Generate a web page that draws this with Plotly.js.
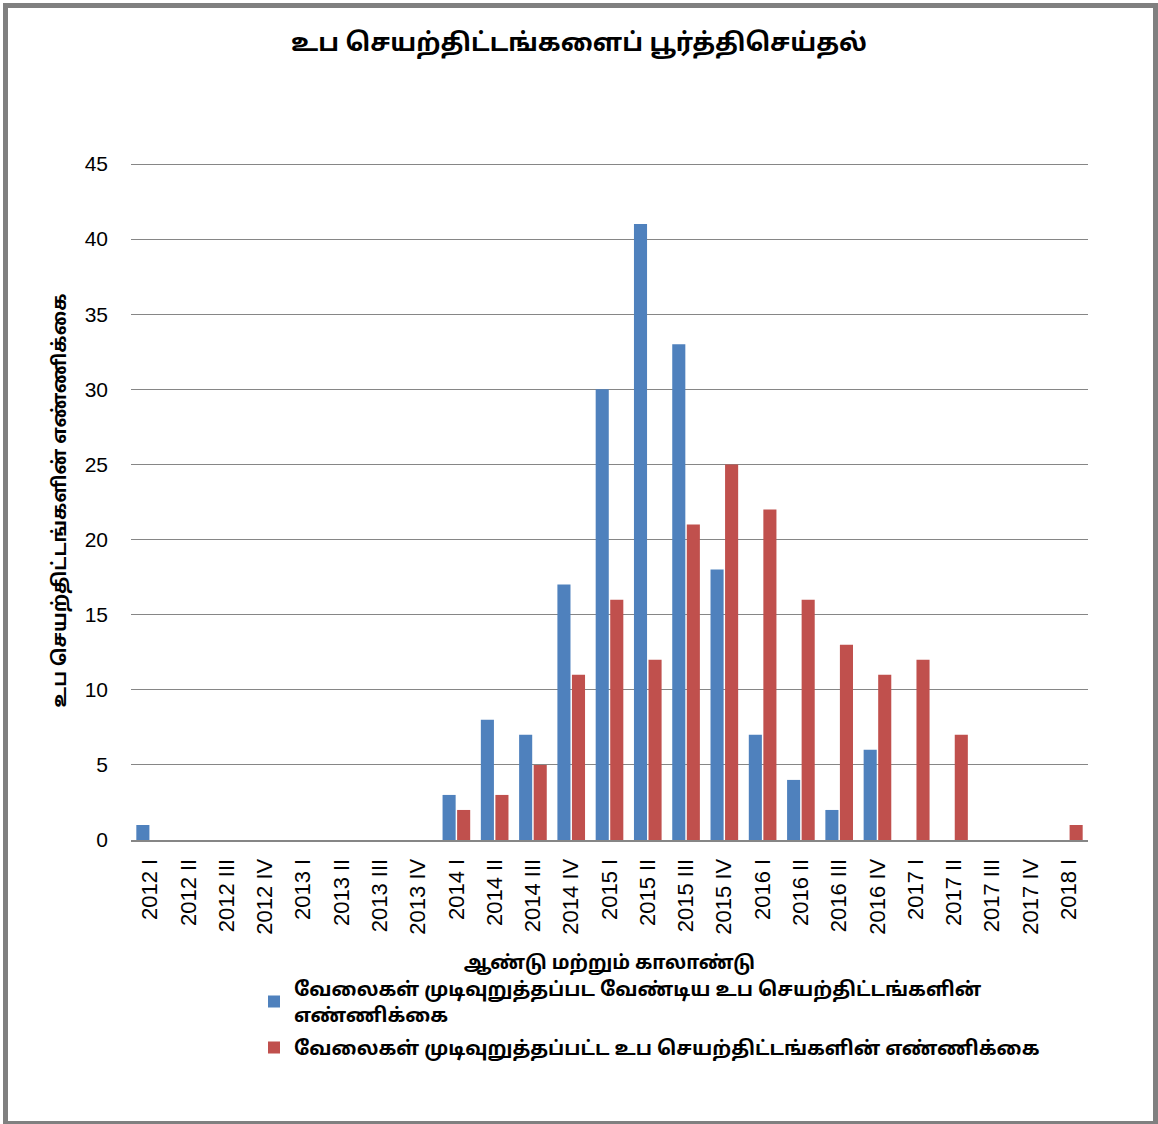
<!DOCTYPE html>
<html>
<head>
<meta charset="utf-8">
<script src="https://cdn.plot.ly/plotly-3.0.1.min.js"></script>
<style>
  html, body { margin: 0; padding: 0; background: #fff; overflow: hidden; }
  #chart { position: absolute; left: 0; top: 0; width: 1158px; height: 1124px; }
  #frame { position: absolute; left: 3px; top: 3px; width: 1155px; height: 1123px; box-sizing: border-box;
           border: 5px solid #808080; pointer-events: none; }
</style>
</head>
<body>
<div id="chart"></div>
<div id="frame"></div>
<script>
const categories = [
  "2012 I","2012 II","2012 III","2012 IV",
  "2013 I","2013 II","2013 III","2013 IV",
  "2014 I","2014 II","2014 III","2014 IV",
  "2015 I","2015 II","2015 III","2015 IV",
  "2016 I","2016 II","2016 III","2016 IV",
  "2017 I","2017 II","2017 III","2017 IV",
  "2018 I"
];
const toBeCompleted = [1,0,0,0, 0,0,0,0, 3,8,7,17, 30,41,33,18, 7,4,2,6, 0,0,0,0, 0];
const completed     = [0,0,0,0, 0,0,0,0, 2,3,5,11, 16,12,21,25, 22,16,13,11, 12,7,0,0, 1];
const seriesNames = [
  "வேலைகள் முடிவுறுத்தப்பட வேண்டிய உப செயற்திட்டங்களின்<br>எண்ணிக்கை",
  "வேலைகள் முடிவுறுத்தப்பட்ட உப செயற்திட்டங்களின் எண்ணிக்கை"
];
const chartTitle = "உப செயற்திட்டங்களைப் பூர்த்திசெய்தல்";
const xTitle = "ஆண்டு மற்றும் காலாண்டு";
const yTitle = "உப செயற்திட்டங்களின் எண்ணிக்கை";
const yTicks = [0,5,10,15,20,25,30,35,40,45];

const tamilFont = "'Noto Sans Tamil', 'Lohit Tamil', 'Latha', 'Noto Sans', 'DejaVu Sans', sans-serif";
const numFont = "'Liberation Sans', Arial, sans-serif";

const traces = [
  { type: 'bar', x: categories, y: toBeCompleted, name: '<b>' + seriesNames[0] + '</b>', legendgroup: 'a',
    marker: { color: '#4F81BD' } },
  { type: 'bar', x: categories, y: completed, name: '<b>' + seriesNames[1] + '</b>', legendgroup: 'b',
    marker: { color: '#C0504D' } }
];

const layout = {
  width: 1158, height: 1124,
  paper_bgcolor: '#ffffff', plot_bgcolor: '#ffffff',
  margin: { l: 131, r: 70, t: 161, b: 284 },
  barmode: 'group', bargap: 0.24, bargroupgap: 0.1,
  showlegend: true,
  title: { text: '<b>' + chartTitle + '</b>', font: { family: tamilFont, size: 25, color: '#000' },
           x: 0.5, xanchor: 'center', y: 1 - 42/1124, yanchor: 'middle', yref: 'container' },
  xaxis: {
    type: 'category', tickangle: -90,
    tickfont: { family: numFont, size: 22, color: '#000' },
    showgrid: false, showline: true, linecolor: '#868686', linewidth: 2,
    ticks: '', ticklabelstandoff: 8,
    title: { text: '<b>' + xTitle + '</b>', font: { family: tamilFont, size: 19, color: '#000' }, standoff: 22 }
  },
  yaxis: {
    range: [0, 45.2], tickvals: yTicks, ticktext: yTicks.map(String),
    tickfont: { family: numFont, size: 21, color: '#000' },
    showgrid: true, gridcolor: '#868686', gridwidth: 1,
    zeroline: false, showline: false, ticks: '', ticklabelstandoff: 22,
    title: { text: '<b>' + yTitle + '</b>', font: { family: tamilFont, size: 19, color: '#000' }, standoff: 12 }
  },
  legend: {
    orientation: 'v', x: (254 - 131) / 957, xanchor: 'left', y: -0.191, yanchor: 'top',
    font: { family: tamilFont, size: 19.5, color: '#000' },
    itemwidth: 30, tracegroupgap: 5, bgcolor: 'rgba(0,0,0,0)'
  }
};

Plotly.newPlot('chart', traces, layout, { displayModeBar: false, staticPlot: true });
</script>
</body>
</html>
